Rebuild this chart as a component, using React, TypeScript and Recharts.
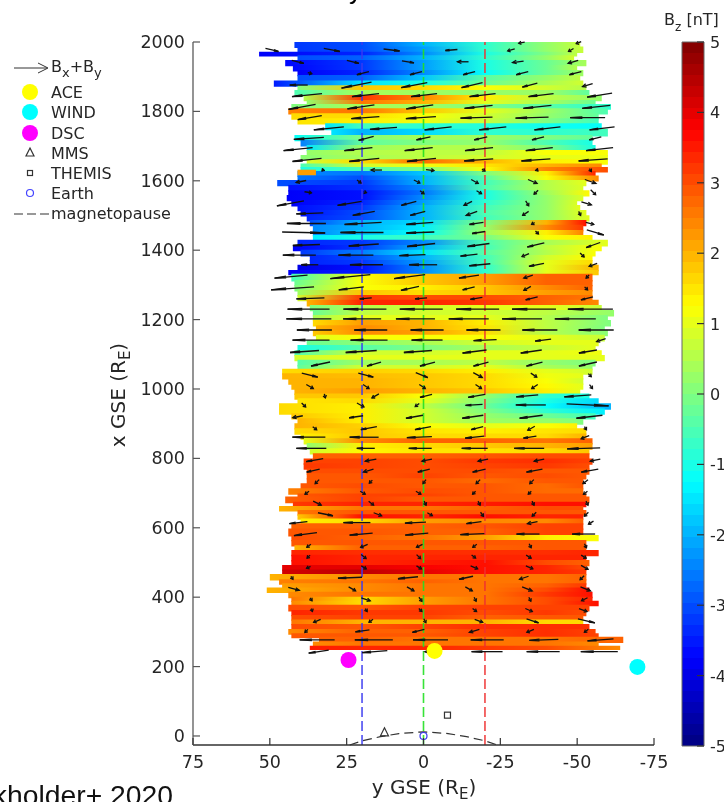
import { ScatterChart, Scatter, XAxis, YAxis, ReferenceArea, ReferenceLine } from 'recharts';

const W = 724;
const H = 802;
const FONT = '"DejaVu Sans", sans-serif';

// [x GSE, left edge, right edge, Bz at left edge, y=20, y=0, y=-20, y=-40, Bz at right edge]
type Band = number[];
const upperBands: Band[] = [
  [2000, 42, -51, -3.2, -3, -2, -0.8, 0.2, 0.7],
  [1987, 41, -52, -3.2, -3, -2.2, -0.8, 0.2, 0.7],
  [1972, 53.5, -50, -3.8, -3.4, -2.4, -1, 0, 0.6],
  [1962, 41, -49, -3, -2.8, -2, -0.8, 0.2, 0.8],
  [1948, 45, -53, -3.7, -3.2, -2.2, -1, -0.2, 0.4],
  [1934, 42.5, -50, -3.7, -3.2, -2.2, -1, -0.2, 0.5],
  [1919, 41, -52, -3.8, -3.4, -2.4, -1.2, -0.2, 0.3],
  [1905, 41, -51, -3, -2.8, -1.8, -0.4, 0.2, 0.6],
  [1889, 48.7, -52, -3.5, -1.5, -1, -0.2, 0.4, 0.8],
  [1875, 41, -53, 0, 1.8, 1.6, 1.2, 0.8, 0.5],
  [1862, 42, -54, -0.5, 0.4, 0.3, 0.2, 0.3, -0.3],
  [1847, 39, -58, 0.5, 3.2, 2.4, 1.4, 0.6, 0.2],
  [1833, 38, -56, 0.2, 2.6, 2, 1, 0.4, -0.2],
  [1821, 43, -61, 0, 0.4, 0.3, 0, -0.4, -0.8],
  [1809, 44, -60, 2.5, 2.6, 1.8, 1, 0.3, -0.5],
  [1795, 43, -57, 1.6, 1.6, 1.2, 0.8, 0.2, -0.3],
  [1780, 41, -57, 1.5, 1.4, 1.1, 0.7, 0, -0.6],
  [1766, 32, -58, -1.5, -0.6, -0.8, -0.9, -1.1, -1.2],
  [1750, 30, -60, -1.5, -2, -1.6, -0.8, -0.8, -0.6],
  [1732, 42, -55, -1.2, 0, 0.4, 0.3, 0, -0.3],
  [1718, 40, -55, -2.5, -0.3, 0, 0.2, -0.5, -1],
  [1703, 38, -56, -1.5, 0.3, 0.5, 0.5, 0, -1],
  [1689, 38, -60, 0.2, 0.5, 0.6, 0.6, 1.2, 1.2],
  [1674, 40, -60, 0.1, 0.4, 0.6, 0.8, 1, 1.1],
  [1662, 38, -60, 0.8, 1.6, 2.7, 2, 1.4, 1.2],
  [1650, 40, -58, -0.5, 0.8, 1.1, 1.5, 2, 2.4],
  [1640, 40, -60, -1, -0.5, 0, 1.2, 2.5, 3],
  [1628, 41, -56, -2.4, -2.6, -1.8, 0, 1.4, 3.4],
  [1615, 41, -57, -2.6, -3, -2, -0.4, 1.2, 2.4],
  [1602, 47.6, -53, -3, -3.2, -2, -0.6, 0.5, 1],
  [1588, 44, -52, -3.6, -3.3, -2.4, -0.5, 0.5, 0.9],
  [1573, 44, -54, -3.8, -3.6, -2.6, -1, 0.3, 1.3],
  [1559, 44.5, -52, -3.8, -3.6, -2.4, -1, 0.2, 0.9],
  [1545, 43, -50, -3.8, -3.4, -2.2, -0.8, 0.2, 0.9],
  [1530, 41, -51, -3.6, -3.2, -2, -0.6, 0.2, 1],
  [1516, 40, -53, -3.6, -3, -2, -0.5, 0.2, 1],
  [1501, 38, -54, -3.4, -3, -2, -0.6, 0.2, 1],
  [1487, 37, -53, -3, -2, -1.6, 0, 2, 3.6],
  [1473, 36, -52, -2.4, -2, -1.4, 0.2, 2.4, 3.2],
  [1458, 36, -52, -2.4, -1.8, -1.2, 0.3, 1.4, 2.5],
  [1444, 36, -55, -1.4, -1, -0.6, -0.1, 1.2, 1.4],
  [1430, 41, -60, -3.4, -3.2, -2.4, -0.5, 0.4, 1],
  [1415, 42.5, -58, -3.8, -3.2, -2, -0.6, 0.6, 1.2],
  [1401, 40, -56, -3.2, -2.5, -1.5, -0.4, 0.5, 1.2],
  [1386, 37, -55, -3.4, -3, -2, -0.6, 0.8, 1.3],
  [1372, 37, -55, -3.4, -3.2, -2.2, -0.6, 1, 1.6],
  [1358, 41, -57, -4, -3.6, -2.4, -0.8, 1, 2],
  [1343, 44, -57, -3.8, -3.5, -2.4, -0.8, 1, 1.8],
];
const middleBands: Band[] = [
  [1332, 43, -55, -0.6, 1.2, 1.8, 2.2, 2.8, 2.8],
  [1314, 42, -55, -0.2, 1.2, 1.8, 2.2, 2.8, 2.8],
  [1300, 42, -55, 0, 1.2, 1.4, 1.8, 2.4, 2.8],
  [1285, 41, -55, 0.3, 1.8, 1.6, 1.8, 2.2, 2.4],
  [1271, 41, -55, 0.8, 3.2, 3, 3, 2.8, 2.6],
  [1257, 38, -57, 2, 3.4, 3.4, 3.2, 2.8, 2.4],
  [1242, 37, -58, 0, 0.5, 0.8, 1, 1, 0.7],
  [1228, 36, -62, -0.2, 0.6, 0.8, 0.8, 0.6, 0.2],
  [1213, 36, -60, 0.4, 1, 1, 1, 0.5, 0],
  [1199, 36, -61, 1.6, 2.2, 2, 1.4, 0.6, 0],
  [1184, 35, -59, 2, 2.4, 2, 1.5, 0.6, 0],
  [1170, 36, -60, 1.8, 2.4, 2.2, 1.6, 0.5, 0.1],
  [1156, 35, -59, 1, 1.2, 1.2, 1.2, 1, 0.7],
  [1141, 38, -57, -0.2, 0.1, 0.4, 0.8, 1, 1],
  [1127, 41, -56, -1, -0.4, 0, 0.4, 0.7, 1],
  [1112, 42, -58, -0.5, 0.8, 0.8, 1, 1, 1.1],
  [1098, 42, -59, 0.8, 1, 1, 1, 1, 1],
  [1084, 41, -56, -0.4, 0.3, 0.4, 0.6, 0.2, 0],
  [1069, 41, -55, -0.3, 0.8, 0.8, 1, 0.4, 0.2],
  [1058, 46, -55, 1.6, 1.7, 1.6, 1.4, 1, 0.8],
  [1045, 46, -52, 2, 1.9, 1.8, 1.6, 1.1, 1],
  [1031, 44, -52, 2, 2, 1.8, 1.6, 1.2, 0.8],
  [1016, 43, -52, 2, 2, 1.8, 1.6, 1.3, 1],
  [1002, 42, -51, 2, 2.2, 2, 1.8, 1.4, 1],
  [987, 42, -54, 1.8, 1.8, 1.2, 0.2, -0.8, -1],
  [973, 41, -57, 1.5, 1.6, 1, 0, -1, -1.6],
  [959, 47, -61, 1.6, 1.4, 0.6, -0.2, -1.2, -2],
  [944, 47, -59, 1.6, 1.4, 0.8, 0, -0.8, -1.4],
  [930, 43, -56, 1.8, 1.4, 0.8, 0.2, -0.2, -0.6],
  [916, 41, -52, 2, 1.4, 0.8, 0.3, 0.2, 0],
  [901, 42, -50, 2, 1.7, 1.2, 1, 1.2, 1.4],
  [887, 42, -53, 1.6, 1.8, 1.5, 1.4, 1.5, 1.6],
  [872, 40, -53, 1.4, 1.8, 1.6, 1.6, 1.6, 2],
  [858, 39, -55, 1, 2.4, 2.8, 2.8, 2.6, 2.8],
  [844, 38, -55, 0.2, 1.4, 1.6, 1.8, 2, 2.2],
  [829, 37, -54, 0.8, 1.3, 1.5, 1.5, 1.6, 1.8],
];
const lowerBands: Band[] = [
  [815, 36, -54, 2.8, 2.8, 2.8, 2.9, 3, 3],
  [800, 39, -55, 3.1, 3.1, 3, 3.2, 3.3, 3.1],
  [786, 39, -54, 3.2, 3.1, 3, 3.1, 3.2, 3],
  [771, 38, -54, 3, 3, 3, 3, 2.9, 2.9],
  [757, 38, -53, 2.9, 2.9, 3.1, 2.9, 3, 2.9],
  [743, 38, -52, 2.9, 2.9, 2.9, 2.7, 2.9, 2.9],
  [728, 40, -52, 2.9, 3, 2.9, 2.9, 2.7, 2.9],
  [714, 44, -52, 2.5, 2.9, 3, 2.9, 2.7, 2.7],
  [699, 41, -53, 2.9, 3.1, 3.1, 2.9, 2.9, 2.9],
  [690, 45, -54, 2.8, 3.1, 2.9, 2.9, 2.9, 2.9],
  [675, 42.5, -53, 3.2, 3.4, 3.4, 3.5, 3.6, 3.6],
  [663, 47, -52, 2, 2.6, 2.6, 2.8, 3, 3],
  [651, 41, -53, 2.6, 2.9, 2.9, 2.9, 2.9, 2.9],
  [639, 41, -52, 1.8, 3.6, 3.4, 3.6, 3.4, 3.4],
  [627, 40, -52, 1.4, 1.6, 2.2, 2.4, 2.4, 2.8],
  [613, 43, -52, 2.8, 2.8, 2.8, 2.9, 3.1, 3.1],
  [598, 44, -52, 2.9, 2.9, 2.8, 2.8, 3.1, 3.1],
  [579, 43, -57, 3, 2.8, 2.6, 2.2, 1.4, 1.2],
  [565, 43, -53, 2.9, 2.9, 2.9, 2.9, 2.9, 2.9],
  [550, 42, -53, 2, 2.8, 2.8, 2.8, 2.9, 2.9],
  [536, 43, -57, 3.4, 3.3, 3.3, 3.3, 3.3, 3.4],
  [522, 43, -53, 3.6, 3.4, 3.4, 3.4, 3.4, 3.4],
  [507, 43, -54, 3.6, 3.4, 3.5, 3.6, 3, 2.8],
  [493, 46, -53, 4, 4, 3.8, 3.6, 3.4, 3],
  [480, 46, -53, 4.2, 4.4, 4, 3.6, 3.4, 3.2],
  [467, 50, -53, 2, 2.4, 2.6, 2.6, 2.6, 2.8],
  [452, 47, -53, 2.5, 2.6, 2.8, 2.6, 2.6, 2.8],
  [440, 46, -53, 2.2, 2.4, 2.6, 2.6, 2.8, 3.2],
  [428, 51, -54, 2, 2.4, 2.6, 2.6, 3, 3.6],
  [416, 44, -55, 2.4, 2.6, 2.6, 2.6, 3.2, 3.6],
  [401, 43, -55, 2.6, 1.6, 2.2, 2.6, 3, 3.4],
  [390, 43, -57, 2.4, 1.6, 2.2, 2.6, 3, 3.6],
  [378, 44, -54, 3, 2.9, 3.1, 3.1, 3.1, 3.1],
  [363, 43, -53, 3.4, 3.2, 3.2, 3, 3.2, 3],
  [349, 43, -52, 3, 3.1, 3.1, 2.8, 2.9, 2.9],
  [336, 43, -52, 2.6, 2, 2, 2, 1.6, 1.6],
  [323, 43, -54, 3, 2.9, 3.1, 3.3, 3.3, 3.3],
  [308, 44, -56, 2.4, 2.8, 2.8, 3.1, 3.3, 3.1],
  [296, 43, -57, 2.9, 2.9, 2.9, 3.1, 3.3, 3.1],
  [286, 34, -65, 2.8, 2.8, 2.6, 2.6, 2.6, 2.8],
  [272, 36, -57, 2.4, 2.6, 2.6, 2.6, 2.6, 2.4],
  [260, 37, -64, 3.5, 3.4, 3.4, 3.2, 3, 2.4],
];
const bandBottom = 248;
const bandColumns = [20, 0, -20, -40];
// small orange patch at the left end of the blue block: [x top, x bottom, left, right, Bz]
const spot = [1632, 1616, 41, 35, 2.2];

// [x GSE, first y, last y, then (u, v) pairs for the six arrows of the row]
const upperArrows: number[][] = [
  [1998, 42.2, -50.5, 0, 0, 0, 0, 0, 0, 0, 0, -6, -1, -5, -2],
  [1977, 49.3, -48, 13, -3, 16, -3, 16, -2, -12, -1, -7, -2, -5, -3],
  [1943, 40.9, -48.7, 12, -3, 12, -3, 12, -2, -11, 0, -11, -1.5, -10, -3],
  [1910, 37, -49.4, 4, -1, -12, -3, -12, -3, -12, -3, -12, -3, -12, -3],
  [1876, 40.6, -53.4, -18, 0, -30, -6, -26, -5, -21, -5, -15, -4, -10, -3],
  [1847, 37.9, -57.3, -30, -3, -27, -3, -26, -3, -26, -3, -25, -3, -25, -4],
  [1813, 39.5, -56.2, -27, -5, -27, -4, -27, -4, -28, -3, -28, -3, -28, -3],
  [1782, 37, -53.4, -24, -4, -28, -2, -30, -2, -32, -1, -33, -1, -35, 0],
  [1751, 30.8, -58.1, -30, -3, -27, -2, -27, -3, -27, -3, -26, -3, -25, -3],
  [1722, 37.3, -55.9, -30, -2, -15, -4, -14, -3, -13, -3, -12, -3, -12, -3],
  [1691, 40.8, -57.3, -29, -3, -28, -3, -28, -3, -28, -3, -27, -3, -27, -3],
  [1660, 37.9, -55.2, -29, -3, -30, -3, -29, -3, -29, -2, -29, -2, -29, -2],
  [1631, 32.7, -54.3, -2, -2, -11, 0, 8, -1, 3, -2, 2, -2, 2, -3],
  [1598, 39.8, -54.3, -10, -2, 4, -3, 6, -3, 7, -4, 9, -4, 11, -4],
  [1567, 37.6, -55.2, 7, -1, 3, -1, 4, -3, 5, -3, -4, -4, 5, -5],
  [1535, 43.3, -53, -27, -5, -24, -4, -15, -4, -8, -4, 3, -5, 10, -3],
  [1506, 37, -50.8, -27, -1, -22, -4, -15, -4, -11, -4, -6, -4, 2, -4],
  [1477, 38.1, -54.1, -39, 0, -37, -2, -27, -2, -14, -2, -3, -2, 8, -2],
  [1451, 39, -55.9, 43, -1, -43, 0, -28, -1, -13, -2, 3, -3, 17, -5],
  [1415, 38.1, -55.2, -27, -1, -30, -2, -28, -3, -22, -3, -17, -4, -14, -5],
  [1386, 40.4, -51.6, -33, 0, -35, 0, -26, -1, -17, -2, -7, -3, 4, -4],
  [1358, 37, -55.2, -17, 0, -33, 0, -28, 0, -21, -2, -15, -3, -8, -3],
];
const middleArrows: number[][] = [
  [1324, 43.1, -53.4, -33, -3, -40, -4, -31, -4, -20, -3, -9, -3, -3, -3],
  [1290, 42.6, -52.9, -43, -3, -25, -3, -18, -4, -12, -3, -7, -4, 3, -3],
  [1261, 36.8, -53.2, -28, -1, -12, -1, -12, -1, -12, -2, -12, -3, -12, -3],
  [1230, 37.4, -54.3, -42, 0, -43, 0, -43, 0, -43, 0, -44, 0, -45, 0],
  [1202, 37.3, -49.4, -45, 0, -38, 0, -39, 0, -40, 0, -40, 0, -41, 0],
  [1170, 35.5, -56.2, -35, 0, -33, 0, -33, 0, -34, 0, -35, 0, -35, 0],
  [1141, 36.6, -57.8, -37, 0, -37, 0, -31, 0, -23, -1, -16, -2, -9, -3],
  [1108, 38.7, -53.5, -29, -2, -31, -2, -28, -2, -24, -3, -21, -3, -18, -3],
  [1072, 33.5, -53.5, -19, -4, -14, -4, -15, -4, -15, -4, -16, -4, -18, -4],
  [1040, 37, -54.1, 16, -4, 15, -4, 12, -5, 9, -5, 6, -4, 3, -3],
  [1007, 37, -54.5, 7, -4, 6, -4, 6, -4, 6, -4, -6, -4, 3, -4],
  [980, 32.1, -50.2, 1, -4, -7, -4, -12, -3, -17, -3, -22, -2, -27, -2],
  [954, 39, -53.4, 4, -4, 7, -4, -4, -3, -17, -1, -30, 0, 42, -2],
  [920, 40.9, -54, -10, -2, -14, -2, -17, -3, -21, -3, -23, -3, -26, -3],
  [887, 35.4, -52.7, 4, -3, -16, -3, -16, -3, -12, -3, -7, -4, 2, -3],
  [861, 37.3, -52.6, -33, 0, -29, 0, -25, -1, -19, -2, -13, -2, -8, -3],
  [829, 36.5, -52.1, -30, 0, -18, 0, -23, 0, -26, 0, -30, 0, -33, -1],
  [795, 35.4, -55.9, -17, -3, -11, -2, -10, -2, -10, -2, -10, -2, -10, -2],
  [765, 35.9, -54.1, -13, -3, -10, -3, -12, -3, -13, -3, -16, -3, -17, -3],
  [733, 34.6, -52.7, -4, -4, -3, -3, -3, -4, -4, -4, -4, -4, -5, -4],
  [701, 37.9, -52.7, -4, -3, 5, -3, 5, -3, -3, -3, -3, -3, -4, -3],
];
const lowerArrows: number[][] = [
  [671, 34.6, -53.2, 8, -4, 5, -4, 2, -4, 2, -4, 2, -4, 2, -4],
  [639, 31.9, -53, 15, -3, 8, -3, 5, -3, 3, -4, -4, -4, -4, -4],
  [615, 40.7, -54.5, -18, -2, -27, 0, -21, -1, -15, -2, -10, -2, -5, -3],
  [582, 38.4, -52.1, -23, -3, -23, -2, -23, -2, -24, -1, -23, 0, -23, 0],
  [548, 37.3, -52.7, -4, -3, -7, -3, -6, -3, -4, -3, 2, -4, 2, -4],
  [517, 37.4, -52.1, -3, -3, 5, -4, 4, -4, 4, -3, 5, -3, 5, -3],
  [486, 37.4, -52.4, -4, -2, 5, -3, 5, -3, 7, -3, 7, -3, 7, -4],
  [456, 42.8, -51.6, 2, -3, -24, -1, -20, -2, -14, -3, -9, -3, -4, -4],
  [424, 42.2, -52.7, 11, -3, 7, -4, 7, -4, 7, -4, 10, -4, 10, -4],
  [394, 36.6, -52.4, 2, -3, 9, -3, 3, -4, 2, -4, 2, -4, -6, -3],
  [363, 36.3, -51.9, 1, -3, 2, -3, 3, -3, 4, -3, 7, -3, 8, -3],
  [332, 34.6, -53, -7, -3, -4, -3, 2, -4, 8, -3, 12, -4, 17, -4],
  [303, 38.1, -53, -3, -3, -14, -2, -12, -3, -10, -3, -7, -3, -4, -3],
  [277, 34.6, -57.6, -35, 0, -38, 0, -35, 0, -33, 0, -29, -1, -26, -2],
  [243, 34.1, -57.2, -20, -3, -25, -2, -12, 0, -31, 0, -33, 0, -37, 0],
];

const yTicks = [0, 200, 400, 600, 800, 1000, 1200, 1400, 1600, 1800, 2000];
const xTicks = [75, 50, 25, 0, -25, -50, -75];
const barTicks = [-5, -4, -3, -2, -1, 0, 1, 2, 3, 4, 5];

const magnetopause = [
  { y: 24, x: -26 }, { y: 20, x: -14 }, { y: 14, x: -2 }, { y: 8, x: 7 }, { y: 0, x: 12 },
  { y: -8, x: 7 }, { y: -14, x: -2 }, { y: -20, x: -14 }, { y: -24, x: -26 },
];
const ace = [{ y: -3.6, x: 245 }];
const dsc = [{ y: 24.4, x: 219 }];
const wind = [{ y: -69.6, x: 199 }];
const mms = [{ y: 12.7, x: 12 }];
const themis = [{ y: -7.8, x: 60 }];
const earth = [{ y: 0, x: 0 }];

function jet(v: number) {
  const t = (Math.max(-5, Math.min(5, v)) + 5) / 10;
  const ch = (c: number) => Math.round(255 * Math.max(0, Math.min(1, 1.5 - Math.abs(4 * t - c))));
  return `rgb(${ch(3)},${ch(2)},${ch(1)})`;
}

const bands = [...upperBands, ...middleBands, ...lowerBands];
const quiver = [...upperArrows, ...middleArrows, ...lowerArrows].flatMap((r) =>
  [0, 1, 2, 3, 4, 5]
    .map((i) => ({ y: r[1] + ((r[2] - r[1]) * i) / 5, x: r[0], u: r[3 + i * 2], v: r[4 + i * 2] }))
    .filter((a) => a.u !== 0 || a.v !== 0),
);
const barLevels = Array.from({ length: 64 }, (_, i) => -5 + (i * 10) / 64);

function Arrow(props: any) {
  const { cx, cy, payload } = props;
  const { u, v } = payload;
  const x0 = cx - u / 2;
  const y0 = cy + v / 2;
  const x1 = cx + u / 2;
  const y1 = cy - v / 2;
  const len = Math.hypot(u, v) || 1;
  const ux = u / len;
  const uy = -v / len;
  // long arrows: a narrow head that only reads as a thicker third of the shaft
  const back = Math.max(2.5, len * 0.35);
  const side = len > 12 ? 0.8 : 1.7;
  const wing = (s: number) =>
    `${x1 - ux * back - s * uy * side},${y1 - uy * back + s * ux * side}`;
  return (
    <g stroke="#111" fill="none" strokeWidth={1.3}>
      <line x1={x0} y1={y0} x2={x1} y2={y1} />
      <polyline points={`${wing(1)} ${x1},${y1} ${wing(-1)}`} />
    </g>
  );
}

const Dot = (r: number, color: string) => (p: any) => <circle cx={p.cx} cy={p.cy} r={r} fill={color} />;

const NoMark = () => <g />;

function YTick({ x, y, payload }: any) {
  return (
    <g>
      <line x1={x + 8} x2={x + 15} y1={y} y2={y} stroke="#555" strokeWidth={1.2} />
      <text x={x} y={y + 6} textAnchor="end" fontSize={17.5} fontFamily={FONT} fill="#262626">
        {payload.value}
      </text>
    </g>
  );
}

function XTick({ x, payload }: any) {
  return (
    <g>
      <line x1={x} x2={x} y1={745} y2={738} stroke="#333" strokeWidth={1.2} />
      <text x={x} y={768} textAnchor="middle" fontSize={17.5} fontFamily={FONT} fill="#262626">
        {payload.value}
      </text>
    </g>
  );
}

function BarTick({ y, payload }: any) {
  return (
    <g>
      <line x1={697} x2={704} y1={y} y2={y} stroke="#333" strokeWidth={1.2} />
      <text x={710} y={y + 6} fontSize={16} fontFamily={FONT} fill="#262626">
        {payload.value}
      </text>
    </g>
  );
}

function Overlay() {
  const text = { fontFamily: FONT, fill: '#262626' };
  return (
    <svg width={W} height={H} style={{ position: 'absolute', left: 0, top: 0, pointerEvents: 'none' }}>
      <text x={349} y={-1.5} fontFamily="Liberation Sans" fontSize={26}>y</text>
      <line x1={14} x2={47} y1={68} y2={68} stroke="#333" strokeWidth={1} />
      <polyline points="38,63 48,68 38,73" stroke="#333" fill="none" strokeWidth={1} />
      <text x={51} y={72} fontSize={16} {...text}>
        B<tspan dy={5} fontSize={13}>x</tspan><tspan dy={-5}>+B</tspan><tspan dy={5} fontSize={13}>y</tspan>
      </text>
      <circle cx={30} cy={92} r={8} fill="#ffff00" />
      <circle cx={30} cy={112} r={8} fill="#00ffff" />
      <circle cx={30} cy={133} r={8} fill="#ff00ff" />
      <polygon points="30,148 34,156 26,156" fill="none" stroke="#333" strokeWidth={1.2} />
      <rect x={27.5} y={170.5} width={5} height={5} fill="none" stroke="#333" strokeWidth={1.2} />
      <circle cx={30} cy={193} r={3.5} fill="none" stroke="#4444ff" strokeWidth={1.2} />
      <line x1={14} x2={49} y1={214} y2={214} stroke="#333" strokeDasharray="9 4" strokeWidth={1.2} />
      {[['ACE', 98], ['WIND', 118], ['DSC', 139], ['MMS', 159], ['THEMIS', 179], ['Earth', 199], ['magnetopause', 219]].map(
        ([label, y]) => (
          <text key={label} x={51} y={y} fontSize={16} {...text}>{label}</text>
        ),
      )}
      <text transform="translate(125,395) rotate(-90)" textAnchor="middle" fontSize={20} {...text}>
        x GSE (R<tspan dy={5} fontSize={15}>E</tspan><tspan dy={-5}>)</tspan>
      </text>
      <text x={424} y={794} textAnchor="middle" fontSize={20} {...text}>
        y GSE (R<tspan dy={5} fontSize={15}>E</tspan><tspan dy={-5}>)</tspan>
      </text>
      <text x={664} y={25} fontSize={16} {...text}>
        B<tspan dy={6} fontSize={12}>z</tspan><tspan dy={-6}> [nT]</tspan>
      </text>
      <text x={173} y={804.8} textAnchor="end" fontFamily="Liberation Sans" fontSize={28.3} fill="#111">
        Burkholder+ 2020
      </text>
    </svg>
  );
}

export default function App() {
  return (
    <div
      style={{
        position: 'absolute',
        left: 0,
        top: 0,
        width: W,
        height: H,
        overflow: 'hidden',
        background: '#fff',
        filter: 'blur(0.45px)',
      }}
    >
      <ScatterChart width={W} height={H} margin={{ top: 42, right: 70, bottom: 0, left: 143 }}>
        <defs>
          {bands.map((b, i) => (
            <linearGradient key={i} id={`band-${i}`} x1="0" y1="0" x2="1" y2="0">
              <stop offset="0" stopColor={jet(b[3])} />
              {bandColumns.map((c, j) => (
                <stop
                  key={c}
                  offset={Math.max(0, Math.min(1, (b[1] - c) / (b[1] - b[2])))}
                  stopColor={jet(b[4 + j])}
                />
              ))}
              <stop offset="1" stopColor={jet(b[8])} />
            </linearGradient>
          ))}
        </defs>
        <XAxis
          type="number"
          dataKey="y"
          domain={[-75, 75]}
          reversed
          ticks={xTicks}
          height={57}
          stroke="#333"
          strokeWidth={1.4}
          tickLine={false}
          tick={XTick}
          interval={0}
        />
        <YAxis
          type="number"
          dataKey="x"
          domain={[-26, 2000]}
          ticks={yTicks}
          width={50}
          stroke="#666"
          strokeWidth={1.4}
          tickLine={false}
          tick={YTick}
          interval={0}
        />
        {bands.map((b, i) => (
          <ReferenceArea
            key={i}
            x1={b[1]}
            x2={b[2]}
            y1={i + 1 < bands.length ? Math.max(bandBottom, bands[i + 1][0] - 4) : bandBottom}
            y2={b[0]}
            fill={`url(#band-${i})`}
            fillOpacity={1}
            stroke="none"
          />
        ))}
        <ReferenceArea y2={spot[0]} y1={spot[1]} x1={spot[2]} x2={spot[3]} fill={jet(spot[4])} fillOpacity={1} stroke="none" />
        <ReferenceLine x={20} stroke="#3a3af0" strokeOpacity={0.9} strokeWidth={1.6} strokeDasharray="10 4" />
        <ReferenceLine x={0} stroke="#22e022" strokeOpacity={0.9} strokeWidth={1.6} strokeDasharray="10 4" />
        <ReferenceLine x={-20} stroke="#ee3030" strokeOpacity={0.9} strokeWidth={1.6} strokeDasharray="10 4" />
        <Scatter data={quiver} shape={Arrow} isAnimationActive={false} />
        <Scatter
          data={magnetopause}
          shape={NoMark}
          line={{ stroke: '#333', strokeWidth: 1.2, strokeDasharray: '9 5' }}
          lineType="joint"
          isAnimationActive={false}
        />
        <Scatter data={ace} shape={Dot(8, '#ffff00')} isAnimationActive={false} />
        <Scatter data={dsc} shape={Dot(8, '#ff00ff')} isAnimationActive={false} />
        <Scatter data={wind} shape={Dot(8, '#00ffff')} isAnimationActive={false} />
        <Scatter
          data={mms}
          isAnimationActive={false}
          shape={(p: any) => (
            <polygon
              points={`${p.cx},${p.cy - 4} ${p.cx + 4},${p.cy + 4} ${p.cx - 4},${p.cy + 4}`}
              fill="none"
              stroke="#333"
              strokeWidth={1.2}
            />
          )}
        />
        <Scatter
          data={themis}
          isAnimationActive={false}
          shape={(p: any) => (
            <rect x={p.cx - 3} y={p.cy - 3} width={6} height={6} fill="none" stroke="#333" strokeWidth={1.2} />
          )}
        />
        <Scatter
          data={earth}
          isAnimationActive={false}
          shape={(p: any) => <circle cx={p.cx} cy={p.cy} r={3.5} fill="none" stroke="#3a3af0" strokeWidth={1.2} />}
        />
      </ScatterChart>
      <div style={{ position: 'absolute', left: 0, top: 0 }}>
        <ScatterChart width={W} height={H} margin={{ top: 42, right: 19, bottom: 56, left: 682 }}>
          <XAxis type="number" dataKey="a" domain={[0, 1]} hide />
          <YAxis
            type="number"
            dataKey="b"
            orientation="right"
            domain={[-5, 5]}
            ticks={barTicks}
            width={1}
            axisLine={false}
            tickLine={false}
            tick={BarTick}
            interval={0}
          />
          {barLevels.map((l) => (
            <ReferenceArea
              key={l}
              x1={0}
              x2={1}
              y1={l}
              y2={Math.min(5, l + 10 / 64 + 0.02)}
              fill={jet(l + 5 / 64)}
              fillOpacity={1}
              stroke="none"
            />
          ))}
          <ReferenceArea x1={0} x2={1} y1={-5} y2={5} fill="none" stroke="#666" strokeWidth={1} />
          <Scatter data={[{ a: 0, b: 0 }]} shape={NoMark} isAnimationActive={false} />
        </ScatterChart>
      </div>
      <Overlay />
    </div>
  );
}
